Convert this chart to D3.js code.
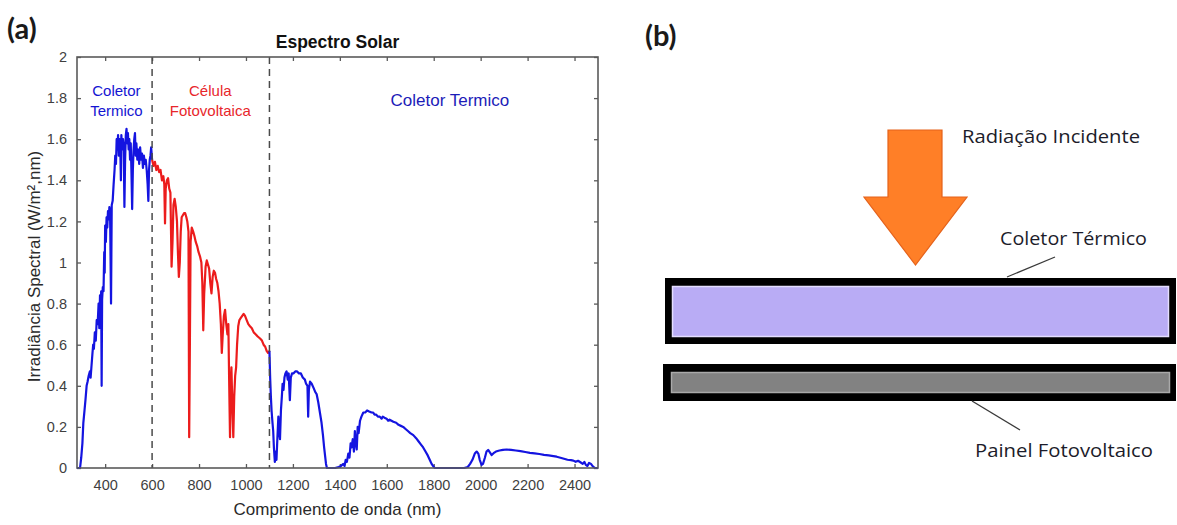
<!DOCTYPE html>
<html>
<head>
<meta charset="utf-8">
<script src="https://cdn.jsdelivr.net/npm/d3@7"></script>
<style>
  html, body { margin: 0; padding: 0; background: #fff; }
  svg { display: block; }
</style>
</head>
<body>
<svg id="chart" width="1177" height="525"></svg>
<script>
// ---------------- DATA ----------------
// Spectral irradiance (W/m²·nm) vs wavelength (nm).
const thermalUV = [ // Coletor Termico (blue) 280–600 nm
  [280,0],[293,0],[298,0.05],[303,0.12],[307,0.22],[312,0.28],[316,0.33],[321,0.40],[325,0.42],[330,0.45],
  [335,0.47],[338,0.44],[342,0.50],[346,0.56],[349,0.60],[352,0.58],[356,0.66],[360,0.62],[364,0.72],[368,0.70],
  [372,0.80],[375,0.68],[378,0.84],[381,0.75],[383,0.86],[385,0.40],[387,0.82],[390,0.88],[393,0.86],[396,1.05],
  [398,0.95],[400,1.18],[403,1.10],[406,1.22],[409,1.17],[412,1.25],[415,1.21],[418,1.27],[421,1.24],[425,0.80],
  [428,1.28],[432,1.30],[436,1.38],[440,1.45],[443,1.52],[446,1.48],[449,1.60],[452,1.55],[455,1.62],[458,1.52],
  [461,1.60],[464,1.58],[467,1.40],[469,1.62],[472,1.55],[476,1.60],[479,1.57],[482,1.27],[485,1.50],[488,1.62],
  [491,1.65],[494,1.58],[497,1.63],[500,1.55],[503,1.60],[506,1.50],[509,1.58],[512,1.44],[515,1.26],[518,1.45],
  [521,1.55],[524,1.60],[527,1.63],[530,1.52],[533,1.58],[537,1.50],[541,1.55],[545,1.48],[549,1.56],[553,1.50],
  [557,1.53],[561,1.46],[565,1.52],[569,1.48],[573,1.50],[577,1.45],[581,1.38],[584,1.30],[587,1.45],[590,1.50],
  [593,1.52],[596,1.56],[600,1.50]
];
const photovoltaic = [ // Célula Fotovoltaica (red) 600–1100 nm
  [600,1.50],[606,1.47],[612,1.49],[618,1.45],[624,1.47],[630,1.44],[636,1.45],[642,1.40],[648,1.42],[652,1.38],
  [655,1.19],[658,1.36],[663,1.40],[668,1.41],[673,1.36],[678,1.34],[683,0.98],[687,1.10],[691,1.28],[696,1.31],
  [701,1.27],[706,1.20],[710,1.05],[714,0.93],[718,1.00],[722,1.15],[726,1.22],[731,1.23],[736,1.24],[741,1.24],
  [746,1.22],[750,1.20],[755,1.15],[758,0.15],[761,0.60],[764,1.10],[769,1.17],[775,1.15],[780,1.13],[786,1.10],
  [792,1.08],[798,1.05],[804,1.03],[810,1.00],[814,0.90],[818,0.67],[822,0.85],[828,0.98],[833,1.01],[838,0.99],
  [843,0.97],[848,0.90],[853,0.85],[858,0.93],[863,0.96],[868,0.95],[873,0.92],[878,0.90],[883,0.86],[888,0.80],
  [893,0.70],[897,0.56],[901,0.65],[906,0.74],[911,0.77],[916,0.70],[921,0.65],[925,0.70],[928,0.45],[932,0.15],
  [935,0.40],[938,0.49],[942,0.30],[946,0.15],[950,0.35],[954,0.45],[958,0.49],[962,0.60],[967,0.69],[972,0.72],
  [978,0.73],[984,0.74],[990,0.75],[996,0.74],[1003,0.72],[1010,0.70],[1017,0.69],[1025,0.68],[1033,0.66],[1042,0.65],
  [1050,0.64],[1060,0.63],[1068,0.62],[1075,0.60],[1082,0.59],[1088,0.57],[1094,0.56],[1100,0.57]
];
const thermalIR = [ // Coletor Termico (blue) 1100–2500 nm
  [1100,0.57],[1103,0.44],[1106,0.35],[1109,0.28],[1113,0.22],[1116,0.18],[1119,0.10],[1123,0.03],[1127,0.08],[1130,0.04],
  [1134,0.15],[1138,0.25],[1141,0.18],[1145,0.14],[1149,0.28],[1153,0.35],[1156,0.41],[1160,0.38],[1164,0.44],[1168,0.46],
  [1173,0.47],[1178,0.43],[1182,0.46],[1187,0.33],[1191,0.44],[1196,0.46],[1202,0.46],[1210,0.47],[1218,0.47],[1226,0.46],
  [1234,0.46],[1242,0.44],[1251,0.43],[1256,0.41],[1262,0.40],[1265,0.25],[1268,0.38],[1273,0.42],[1280,0.41],[1288,0.39],
  [1295,0.37],[1301,0.36],[1308,0.32],[1315,0.27],[1322,0.22],[1328,0.16],[1333,0.10],[1337,0.06],[1341,0.02],[1345,0],
  [1360,0],[1380,0],[1395,0.005],[1405,0.01],[1415,0.02],[1420,0.01],[1425,0.04],[1430,0.03],[1436,0.07],[1441,0.05],
  [1446,0.12],[1450,0.10],[1455,0.14],[1460,0.08],[1464,0.18],[1468,0.12],[1472,0.09],[1476,0.20],[1480,0.17],[1486,0.23],
  [1492,0.25],[1500,0.27],[1508,0.27],[1516,0.28],[1525,0.275],[1535,0.27],[1542,0.27],[1548,0.26],[1555,0.26],[1562,0.25],
  [1570,0.25],[1578,0.24],[1583,0.25],[1590,0.245],[1599,0.24],[1606,0.23],[1612,0.235],[1620,0.23],[1628,0.225],[1640,0.22],
  [1650,0.21],[1660,0.205],[1670,0.20],[1680,0.19],[1690,0.18],[1700,0.17],[1713,0.16],[1725,0.145],[1735,0.13],[1745,0.115],
  [1755,0.10],[1765,0.08],[1775,0.06],[1785,0.035],[1791,0.02],[1800,0.005],[1805,0],[1850,0],[1900,0],[1930,0],
  [1945,0.005],[1955,0.02],[1965,0.04],[1975,0.07],[1983,0.08],[1990,0.07],[1996,0.04],[2004,0.015],[2010,0.02],[2018,0.05],
  [2025,0.08],[2032,0.088],[2040,0.075],[2047,0.063],[2055,0.072],[2065,0.08],[2080,0.085],[2095,0.088],[2111,0.09],[2130,0.088],
  [2150,0.085],[2170,0.082],[2190,0.078],[2210,0.074],[2230,0.071],[2250,0.068],[2270,0.064],[2290,0.061],[2310,0.058],[2324,0.055],
  [2340,0.05],[2355,0.045],[2370,0.04],[2385,0.038],[2395,0.036],[2405,0.03],[2415,0.035],[2425,0.028],[2435,0.02],[2442,0.03],
  [2448,0.015],[2455,0.01],[2462,0.025],[2470,0.02],[2478,0.008],[2487,0],[2500,0]
];
const regionBounds = [600, 1100];              // dashed separators (nm)
const xDomain = [280, 2500];
const yDomain = [0, 2];
const xTicks = [400, 600, 800, 1000, 1200, 1400, 1600, 1800, 2000, 2200, 2400];
const yTicks = [0, 0.2, 0.4, 0.6, 0.8, 1, 1.2, 1.4, 1.6, 1.8, 2];
const titleText = "Espectro Solar";
const xLabelText = "Comprimento de onda (nm)";
const yLabelText = "Irradiância Spectral (W/m²,nm)";
const regionLabels = [
  {lines: ["Coletor", "Termico"], x: 448, color: "#1414d2"},
  {lines: ["Célula", "Fotovoltaica"], x: 848, color: "#e8262a"},
  {lines: ["Coletor Termico"], x: 1869, color: "#1c1cb8"}
];
const diagramLabels = ["Radiação Incidente", "Coletor Térmico", "Painel Fotovoltaico"];

// ---------------- LAYOUT ----------------
const svg = d3.select("#chart");
const M = {left: 77, right: 598, top: 57, bottom: 468};
const x = d3.scaleLinear().domain(xDomain).range([M.left, M.right]);
const y = d3.scaleLinear().domain(yDomain).range([M.bottom, M.top]);
const sans = "'Liberation Sans', Arial, Helvetica, sans-serif";
const axisColor = "#5a5a5a";
const tickTextColor = "#3f3f3f";

// panel label (a)
svg.append("text").attr("x", 7).attr("y", 39).text("(a)")
  .attr("font-family", "Lato, 'Open Sans', sans-serif").attr("font-weight", 700)
  .attr("font-size", 29).attr("fill", "#1a1a1a");

// title
svg.append("text").attr("x", (M.left + M.right) / 2).attr("y", 48)
  .attr("text-anchor", "middle").attr("font-family", sans).attr("font-weight", 700)
  .attr("font-size", 17.5).attr("fill", "#111").text(titleText);

// axes
const fmt = d => String(d);
const gB = svg.append("g").attr("transform", `translate(0,${M.bottom})`)
  .call(d3.axisBottom(x).tickValues(xTicks).tickSize(-4).tickPadding(12).tickFormat(fmt));
const gT = svg.append("g").attr("transform", `translate(0,${M.top})`)
  .call(d3.axisTop(x).tickValues(xTicks).tickSize(-4).tickFormat(""));
const gL = svg.append("g").attr("transform", `translate(${M.left},0)`)
  .call(d3.axisLeft(y).tickValues(yTicks).tickSize(-4).tickPadding(10).tickFormat(fmt));
const gR = svg.append("g").attr("transform", `translate(${M.right},0)`)
  .call(d3.axisRight(y).tickValues(yTicks).tickSize(-4).tickFormat(""));
[gB, gT, gL, gR].forEach(g => {
  g.select(".domain").remove();
  g.selectAll(".tick line").attr("stroke", axisColor).attr("stroke-width", 1.3);
  g.selectAll(".tick text").attr("fill", tickTextColor).attr("font-family", sans).attr("font-size", 14.5);
});

// curves
const line = d3.line().x(d => x(d[0])).y(d => y(d[1]));
const series = [
  {data: thermalUV, color: "#1414e0"},
  {data: photovoltaic, color: "#ec1c1c"},
  {data: thermalIR, color: "#1414e0"}
];
series.forEach(s => {
  svg.append("path").datum(s.data).attr("d", line)
    .attr("fill", "none").attr("stroke", s.color).attr("stroke-width", 2.2)
    .attr("stroke-linejoin", "round");
});

// dashed separators
svg.selectAll("line.sep").data(regionBounds).join("line").attr("class", "sep")
  .attr("x1", d => x(d)).attr("x2", d => x(d))
  .attr("y1", y(yDomain[1])).attr("y2", y(yDomain[0]))
  .attr("stroke", "#4a4a4a").attr("stroke-width", 1.5).attr("stroke-dasharray", "7,5");

// frame
svg.append("rect").attr("x", M.left).attr("y", M.top)
  .attr("width", M.right - M.left).attr("height", M.bottom - M.top)
  .attr("fill", "none").attr("stroke", axisColor).attr("stroke-width", 1.6);

// region labels
regionLabels.forEach((r, i) => {
  const t = svg.append("text").attr("text-anchor", "middle").attr("font-family", sans)
    .attr("font-size", i === 2 ? 17 : 15).attr("fill", r.color);
  const y0 = r.lines.length === 1 ? 106 : 96;
  r.lines.forEach((ln, k) => t.append("tspan").attr("x", x(r.x)).attr("y", y0 + k * 20).text(ln));
});

// axis labels
svg.append("text").attr("x", (M.left + M.right) / 2).attr("y", 515)
  .attr("text-anchor", "middle").attr("font-family", sans).attr("font-size", 17)
  .attr("fill", "#2a2a2a").text(xLabelText);
svg.append("text").attr("transform", `translate(40,${(M.top + M.bottom) / 2 + 4}) rotate(-90)`)
  .attr("text-anchor", "middle").attr("font-family", sans).attr("font-size", 17)
  .attr("fill", "#2a2a2a").text(yLabelText);

// ---------------- PANEL (b) diagram ----------------
const cal = "'Open Sans', Lato, sans-serif";
const gb = svg.append("g");
gb.append("text").attr("x", 645).attr("y", 46).text("(b)")
  .attr("font-family", "Lato, 'Open Sans', sans-serif").attr("font-weight", 700)
  .attr("font-size", 29).attr("fill", "#1a1a1a");

// arrow
const arrow = {x0: 888, x1: 942, top: 130, neck: 197, hx0: 864, hx1: 967, tip: 265};
gb.append("path")
  .attr("d", `M${arrow.x0},${arrow.top}H${arrow.x1}V${arrow.neck}H${arrow.hx1}L${(arrow.hx0 + arrow.hx1) / 2},${arrow.tip}L${arrow.hx0},${arrow.neck}H${arrow.x0}Z`)
  .attr("fill", "#ff7f27").attr("stroke", "#e5621a").attr("stroke-width", 1.2);

// collector box
gb.append("rect").attr("x", 665).attr("y", 278).attr("width", 511).attr("height", 66).attr("fill", "#000");
gb.append("rect").attr("x", 672.5).attr("y", 286.5).attr("width", 496).attr("height", 50)
  .attr("fill", "#b9acf5").attr("stroke", "#e4ddff").attr("stroke-width", 1.5);
// PV box
gb.append("rect").attr("x", 663).attr("y", 364).attr("width", 513).attr("height", 37).attr("fill", "#000");
gb.append("rect").attr("x", 671.5).attr("y", 372.5).attr("width", 498).attr("height", 20)
  .attr("fill", "#828282").attr("stroke", "#a9a9a9").attr("stroke-width", 1.5);

// leader lines
gb.append("line").attr("x1", 1055).attr("y1", 257).attr("x2", 1007).attr("y2", 277)
  .attr("stroke", "#3a3a3a").attr("stroke-width", 1.3);
gb.append("line").attr("x1", 972).attr("y1", 401).attr("x2", 1020).attr("y2", 430)
  .attr("stroke", "#3a3a3a").attr("stroke-width", 1.3);

// labels
const dl = [{x: 962, y: 143, w: 178}, {x: 1000, y: 245, w: 147}, {x: 975, y: 457, w: 178}];
diagramLabels.forEach((t, i) => {
  gb.append("text").attr("x", dl[i].x).attr("y", dl[i].y).text(t)
    .attr("textLength", dl[i].w).attr("lengthAdjust", "spacingAndGlyphs")
    .attr("font-family", cal).attr("font-size", 18).attr("fill", "#1c1c2a");
});
</script>
</body>
</html>
